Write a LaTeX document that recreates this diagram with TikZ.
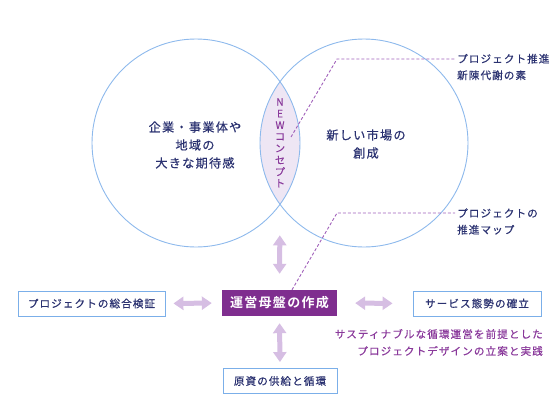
\documentclass[tikz,border=0pt]{standalone}
\usepackage{fontspec}
\usetikzlibrary{arrows.meta}
\newfontfamily\jp[LetterSpace=10,FakeBold=0.35,BoldFont={Noto Sans CJK JP Bold},BoldFeatures={FakeBold=0}]{Noto Sans CJK JP}
\definecolor{navy}{HTML}{2A3170}
\definecolor{circ}{HTML}{8DB9EC}
\definecolor{boxline}{HTML}{7BAFE9}
\definecolor{mainpurple}{HTML}{7F2E8F}
\definecolor{txtpurple}{HTML}{8A3A9B}
\definecolor{arrowc}{HTML}{D6BEE3}
\definecolor{lensc}{HTML}{EEE6F4}
\definecolor{dashc}{HTML}{A060BA}
\tikzset{
  circtext/.style={text=navy, align=center, font=\jp\fontsize{12.2}{18}\selectfont, inner sep=0pt},
  labtext/.style={text=navy, align=left, font=\jp\fontsize{10.6}{16.5}\selectfont, inner sep=0pt},
  sidebox/.style={draw=boxline, line width=0.9pt, fill=white, text=navy, font=\jp\fontsize{10.6}{13}\selectfont, minimum height=25pt, inner sep=0pt},
  mainbox/.style={fill=mainpurple, text=white, font=\jp\bfseries\fontsize{13}{15}\selectfont, minimum width=115pt, minimum height=26pt, inner sep=0pt},
  dblarrow/.style={draw=arrowc, line width=5pt, {Triangle[width=13pt,length=10pt]}-{Triangle[width=13pt,length=10pt]}},
  dashline/.style={draw=dashc, line width=0.9pt, dash pattern=on 3pt off 2pt},
  circline/.style={draw=circ, line width=0.9pt}
}
\begin{document}
\begin{tikzpicture}[x=1pt,y=-1pt]
\useasboundingbox (0,0) rectangle (560,415);
% lens fill
\begin{scope}
  \clip (196,143) circle (104);
  \fill[lensc] (364,143) circle (104);
\end{scope}
\draw[circline] (196,143) circle (104);
\draw[circline] (364,143) circle (104);
\coordinate (lensbot) at (280,204.3);
% circle texts
\node[circtext] (lt) at (195,145) {企業・事業体や\\地域の\\大きな期待感};
\node[circtext] (rt) at (366,144) {新しい市場の\\創成};
% vertical NEW concept
\foreach \c [count=\i] in {N,E,W,コ,ン,セ,プ,ト}{
  \node[text=txtpurple, font=\jp\fontsize{10.2}{10}\selectfont, inner sep=0pt] (v\i) at (280,{90.4+11.6*\i}) {\c};
}
% boxes
\node[mainbox] (main) at (279.5,303) {運営母盤の作成};
\node[sidebox, minimum width=147pt] (left) at (91.5,303.5) {プロジェクトの総合検証};
\node[sidebox, minimum width=128pt] (right) at (477,303.5) {サービス態勢の確立};
\node[sidebox, minimum width=114pt] (bottom) at (280,381) {原資の供給と循環};
% arrows
\draw[dblarrow, shorten <=31pt, shorten >=16pt] (lensbot) -- (main.north);
\draw[dblarrow, shorten <=7pt, shorten >=6pt] (main.south) -- (bottom.north);
\draw[dblarrow, shorten <=8pt, shorten >=10pt] (left.east) -- (main.west);
\draw[dblarrow, shorten <=18pt, shorten >=20pt] (main.east) -- (right.west);
% labels
\node[labtext, anchor=west] (lab1) at (457,67) {プロジェクト推進\\新陳代謝の素};
\node[labtext, anchor=west] (lab2) at (457,221.5) {プロジェクトの\\推進マップ};
\coordinate (d1start) at (291,137);
\coordinate (d1bend) at (337,59);
\coordinate (d1end) at (455,59);
\coordinate (d2bend) at (337,213);
\coordinate (d2end) at (455,213);
\draw[dashline] (d1start) -- (d1bend) -- (d1end);
\draw[dashline] ([xshift=12.5pt]main.north) -- (d2bend) -- (d2end);
% bottom right purple text
\node[text=txtpurple, align=right, anchor=east, font=\jp\fontsize{10.6}{17}\selectfont, inner sep=0pt] (note) at (543,342.5) {サスティナブルな循環運営を前提とした\\プロジェクトデザインの立案と実践};
\end{tikzpicture}
\end{document}
